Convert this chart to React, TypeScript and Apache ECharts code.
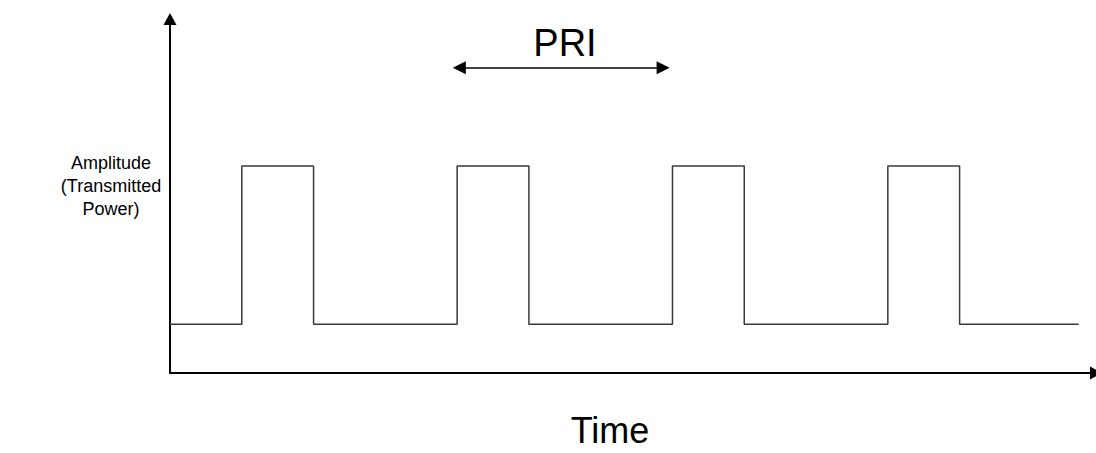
import React, { useEffect, useRef } from "react";
import * as echarts from "echarts";

// Pulse train: time (units, PRI = 3) and amplitude level
const times = [0, 1, 1, 2, 2, 4, 4, 5, 5, 7, 7, 8, 8, 10, 10, 11, 11, 12.66];
const levels = [
  1.38, 1.38, 5.85, 5.85, 1.38, 1.38, 5.85, 5.85, 1.38, 1.38, 5.85, 5.85, 1.38,
  1.38, 5.85, 5.85, 1.38, 1.38,
];
// PRI arrow span (time units) and height
const priStart = 4.03;
const priEnd = 6.87;
const priLevel = 8.62;

const xLabel = "Time";
const yLabel = "Amplitude\n(Transmitted\nPower)";
const priLabel = "PRI";

export default function App() {
  const ref = useRef<HTMLDivElement>(null);
  useEffect(() => {
    if (!ref.current) return;
    const chart = echarts.init(ref.current, null, { renderer: "svg" });
    const font = "'Liberation Sans', Arial, sans-serif";
    chart.setOption({
      animation: false,
      backgroundColor: "#fff",
      grid: { left: 170, right: -1, top: 19, bottom: 80, containLabel: false },
      xAxis: {
        type: "value",
        min: 0,
        max: 12.9,
        axisLine: {
          show: true,
          onZero: true,
          lineStyle: { color: "#000", width: 2 },
          symbol: ["none", "triangle"],
          symbolSize: [13, 12],
        },
        axisTick: { show: false },
        axisLabel: { show: false },
        splitLine: { show: false },
      },
      yAxis: {
        type: "value",
        min: 0,
        max: 10,
        axisLine: {
          show: true,
          lineStyle: { color: "#000", width: 2 },
          symbol: ["none", "triangle"],
          symbolSize: [13, 12],
        },
        axisTick: { show: false },
        axisLabel: { show: false },
        splitLine: { show: false },
      },
      series: [
        {
          type: "line",
          data: times.map((t, i) => [t, levels[i]]),
          showSymbol: false,
          symbol: "none",
          lineStyle: { color: "#3a3a3a", width: 1.5 },
          silent: true,
          markLine: {
            silent: true,
            symbol: ["triangle", "triangle"],
            symbolSize: [13, 13],
            label: { show: false },
            lineStyle: { type: "solid", color: "#000", width: 1.5 },
            data: [[{ coord: [priStart, priLevel] }, { coord: [priEnd, priLevel] }]],
          },
        },
      ],
      graphic: [
        {
          type: "text",
          x: 565,
          y: 43,
          style: {
            text: priLabel,
            font: `38px ${font}`,
            fill: "#000",
            align: "center",
            verticalAlign: "middle",
          },
        },
        {
          type: "text",
          x: 610,
          y: 430,
          style: {
            text: xLabel,
            font: `36px ${font}`,
            fill: "#000",
            align: "center",
            verticalAlign: "middle",
          },
        },
        {
          type: "text",
          x: 111,
          y: 186,
          style: {
            text: yLabel,
            font: `18px ${font}`,
            lineHeight: 23,
            fill: "#000",
            align: "center",
            verticalAlign: "middle",
          },
        },
      ],
    });
    return () => chart.dispose();
  }, []);
  return (
    <div
      ref={ref}
      style={{ position: "fixed", left: 0, top: 0, width: 1096, height: 453 }}
    />
  );
}
